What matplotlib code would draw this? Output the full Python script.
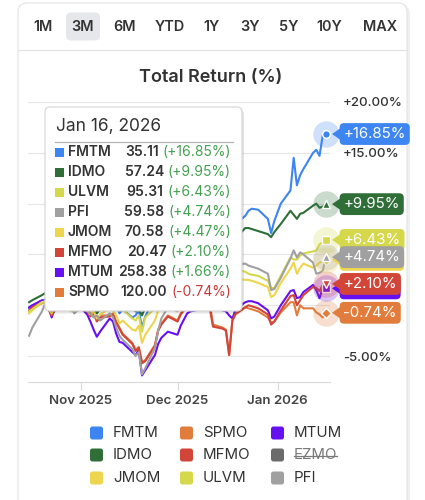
import numpy as np
import pandas as pd
import matplotlib
matplotlib.use('Agg')
import matplotlib.pyplot as plt
import matplotlib.dates as mdates
from matplotlib.patches import FancyBboxPatch, Polygon
from matplotlib.ticker import FuncFormatter

plt.rcParams['font.family'] = ['Inter', 'DejaVu Sans']

W, H = 425, 500

# trading days shown in the 3M window
dates = pd.bdate_range('2025-10-16', '2026-01-16', freq='C',
                       holidays=['2025-11-27', '2025-12-25', '2026-01-01'])

# series order = legend order (row-major), later series drawn on top
tickers = ['FMTM', 'SPMO', 'MTUM', 'IDMO', 'MFMO', 'EZMO', 'JMOM', 'ULVM', 'PFI']
hidden = ['EZMO']
colors = {'FMTM': '#3d85f0', 'SPMO': '#e27c3c', 'MTUM': '#6610f2',
          'IDMO': '#2f6e37', 'MFMO': '#d2463a', 'EZMO': '#6b6b6b',
          'JMOM': '#eed54e', 'ULVM': '#d5d84a', 'PFI': '#a0a0a0'}
markers = {'FMTM': 'o', 'SPMO': 'D', 'MTUM': 's', 'IDMO': '^', 'MFMO': 'v',
           'EZMO': 'o', 'JMOM': 'D', 'ULVM': 's', 'PFI': '^'}

# total return (%) per trading day
fmtm = [-0.3, 0.0, 0.4, 0.6, 0.4, 0.0, 0.8, 1.6, 1.9, 1.5, 0.6, 0.9,
        0.6, -0.2, 0.3, -0.6, -0.3, 0.8, 1.0, 0.4, -0.8, -0.4, -1.2, -1.0,
        -0.5, -2.2, -1.1, 0.8, 2.0, 2.6, 3.2, 2.8, 3.5, 4.1, 3.9, 4.6,
        4.2, 4.8, 5.6, 5.9, 4.8, 5.4, 5.9, 5.1, 7.0, 8.0, 8.8, 9.3,
        9.5, 9.4, 8.5, 7.1, 8.3, 10.0, 11.3, 14.5, 11.8, 12.8, 13.4, 15.0,
        15.3, 14.7, 16.7, 16.85]
spmo = [-0.6, -0.3, 0.2, 0.4, -0.3, -0.8, -0.2, 0.8, 1.0, 0.5, -0.2, 0.1,
        -0.4, -0.9, -0.6, -1.4, -1.0, -1.0, -0.8, -1.6, -2.2, -2.8, -3.7, -4.4,
        -4.1, -5.6, -5.4, -3.9, -2.4, -1.8, -1.0, -1.5, -0.8, -0.3, 0.0, 0.2,
        0.1, 0.3, 0.6, 0.2, -1.9, -2.2, -2.4, -4.9, -1.5, -0.9, -0.2, -0.3,
        -0.4, -0.6, -1.2, -1.7, -1.6, -0.7, 0.3, 0.3, -1.0, 0.0, -0.3, -0.3,
        -0.7, -0.9, -1.2, -0.74]
mtum = [-0.2, 0.0, 0.5, 0.4, -0.2, -1.2, -0.3, 0.6, 0.9, 0.4, -0.3, 0.1,
        -0.9, -1.6, -2.4, -3.1, -2.6, -1.3, -1.6, -2.8, -3.6, -3.7, -4.6, -4.9,
        -4.4, -6.9, -6.4, -4.9, -3.8, -3.2, -2.6, -2.9, -2.0, -1.4, -0.8, -0.6,
        -0.4, -0.1, 0.3, 0.4, -0.3, -0.5, -0.6, -1.0, -1.3, -0.4, 0.3, 0.4,
        0.4, 0.2, -0.5, -1.3, -1.1, 0.0, 1.4, 1.5, 0.7, 0.8, 1.3, 2.0,
        1.5, 0.7, 1.7, 1.66]
idmo = [0.3, 0.5, 1.0, 1.2, 0.6, 0.2, 0.7, 1.1, 0.9, 0.4, 0.0, 0.3,
        0.1, -0.5, -0.2, -0.8, -0.4, 0.5, 0.9, 1.1, 0.2, 0.4, -0.3, -0.6,
        -0.4, -1.0, -0.2, 1.0, 1.8, 2.4, 2.8, 2.4, 2.7, 3.4, 3.1, 3.3,
        3.0, 3.5, 4.3, 4.9, 4.2, 4.8, 5.4, 5.5, 6.3, 6.6, 7.6, 7.6,
        7.5, 7.3, 7.0, 6.7, 7.2, 8.0, 9.3, 8.9, 8.5, 9.0, 9.1, 9.8,
        10.0, 9.6, 9.7, 9.95]
mfmo = [-0.5, -0.2, 0.3, 0.2, -0.4, -1.0, -0.5, 0.3, 0.5, 0.2, -0.4, -0.1,
        -0.6, -1.1, -0.8, -1.6, -1.2, -1.1, -0.9, -1.7, -2.3, -2.9, -3.8, -4.5,
        -4.2, -5.7, -5.5, -4.0, -2.5, -1.9, -1.1, -1.6, -0.9, -0.5, -0.3, -0.2,
        -0.3, -0.1, 0.2, -0.3, -2.1, -2.3, -2.5, -4.9, -1.5, -0.8, -0.2, 0.0,
        -0.1, -0.3, -0.9, -1.9, -1.6, -0.5, 0.9, 1.0, 0.0, 0.5, 1.0, 1.8,
        1.7, 1.4, 2.0, 2.10]
jmom = [-0.8, -0.5, 0.3, 0.2, -0.3, -0.8, 0.1, 0.6, 0.8, 0.3, -0.4, -0.1,
        -0.5, -0.9, -0.6, -1.3, -0.9, -0.3, -0.5, -1.0, -1.8, -1.5, -2.4, -2.5,
        -2.0, -3.7, -2.9, -1.5, -0.5, 0.0, 0.4, 0.1, 0.4, 0.9, 0.7, 1.0,
        0.8, 1.2, 1.7, 2.0, 1.1, 1.4, 1.6, 1.0, 2.2, 2.6, 2.5, 2.5,
        2.4, 2.2, 1.8, 0.8, 1.0, 2.2, 3.6, 4.2, 3.1, 3.7, 4.1, 3.7,
        3.9, 4.2, 4.3, 4.47]
ulvm = [-0.6, -0.4, 0.3, 0.4, 0.0, -0.3, 0.2, 0.1, -0.3, -0.6, -0.4, 0.0,
        0.3, 0.5, 0.4, 0.2, 0.5, 0.9, 1.4, 1.0, -0.5, -0.4, -1.3, -1.5,
        -1.0, -2.6, -1.2, -0.3, 0.8, 1.3, 1.6, 1.4, 1.3, 1.8, 1.5, 1.8,
        1.5, 1.9, 2.5, 3.0, 2.6, 2.9, 2.8, 2.4, 3.1, 3.5, 3.3, 3.1,
        3.0, 2.9, 2.4, 1.7, 1.7, 2.9, 4.7, 4.5, 4.5, 4.9, 5.1, 5.3,
        5.4, 6.0, 6.2, 6.43]
pfi = [-3.0, -2.2, -0.6, 0.2, -0.3, -0.6, 0.2, 0.4, 0.2, -0.2, -0.8, -0.5,
       -0.3, -0.8, -1.2, -1.0, -1.5, -0.8, -1.2, -2.2, -3.0, -3.4, -4.3, -5.0,
       -4.6, -6.8, -6.2, -4.2, -2.5, -1.3, -0.2, -0.6, 0.2, 0.8, 1.0, 1.5,
       1.2, 1.8, 2.5, 3.0, 2.2, 2.8, 3.0, 2.5, 3.6, 4.0, 4.1, 3.9,
       3.8, 3.6, 3.1, 1.5, 1.6, 2.7, 4.6, 5.4, 4.7, 5.2, 5.0, 4.2,
       3.1, 3.2, 3.4, 4.74]

returns = {'FMTM': fmtm, 'SPMO': spmo, 'MTUM': mtum, 'IDMO': idmo,
           'MFMO': mfmo, 'JMOM': jmom, 'ULVM': ulvm, 'PFI': pfi}
prices = {'FMTM': 35.11, 'IDMO': 57.24, 'ULVM': 95.31, 'PFI': 59.58,
          'JMOM': 70.58, 'MFMO': 20.47, 'MTUM': 258.38, 'SPMO': 120.00}

range_buttons = ['1M', '3M', '6M', 'YTD', '1Y', '3Y', '5Y', '10Y', 'MAX']
active_range = '3M'
tooltip_date = 'Jan 16, 2026'
yticks = [-5, 0, 5, 10, 15, 20]

TXT = '#333333'
GREEN = '#46a052'
RED = '#c93b3b'

fig = plt.figure(figsize=(W / 100, H / 100), dpi=100)
fig.patch.set_facecolor('white')

# background layer in pixel coordinates
bg = fig.add_axes([0, 0, 1, 1], zorder=0)
bg.set_xlim(0, W)
bg.set_ylim(H, 0)
bg.axis('off')
bg.add_patch(FancyBboxPatch((20, 5), 390, 540, boxstyle='round,pad=0,rounding_size=9',
                            fc='black', ec='none', alpha=0.06))
bg.add_patch(FancyBboxPatch((18, 3), 389, 540, boxstyle='round,pad=0,rounding_size=9',
                            fc='white', ec='#e3e3e3', lw=0.8))
bg.plot([18, 407], [50, 50], color='#e2e2e2', lw=0.9)

btn_x = [43, 83, 125, 170, 212, 250, 289, 329, 380]
for label, bx in zip(range_buttons, btn_x):
    if label == active_range:
        bg.add_patch(FancyBboxPatch((bx - 17, 12.5), 34, 28, boxstyle='round,pad=0,rounding_size=5',
                                    fc='#e5e7eb', ec='none'))
    bg.text(bx, 27, label, ha='center', va='center', fontsize=10.4,
            fontweight='semibold', color=TXT)

bg.text(211, 77, 'Total Return (%)', ha='center', va='center', fontsize=13,
        fontweight='semibold', color=TXT)

# main chart
ax = fig.add_axes([28 / W, 1 - 382 / H, 302 / W, 280 / H], zorder=1)
ax.patch.set_visible(False)
for k, t in enumerate(tickers):
    if t in hidden:
        continue
    ax.plot(dates, returns[t], color=colors[t], lw=1.5, solid_joinstyle='round',
            zorder=2 + 0.01 * k)

ax.set_ylim(-7.55, 20)
ax.set_xlim(dates[0] - pd.Timedelta(hours=8), dates[-1] + pd.Timedelta(hours=30))
ax.set_yticks(yticks)
# the zero label sits fully behind the value badges in the reference
ax.yaxis.set_major_formatter(FuncFormatter(lambda v, p: f'{v:+.2f}%' if v != 0 else ''))
ax.yaxis.tick_right()
ax.grid(axis='y', color='#e6e6e6', lw=0.8)
ax.set_axisbelow(True)
for s in ['top', 'left', 'right']:
    ax.spines[s].set_visible(False)
ax.spines['bottom'].set_color('#d9d9d9')
ax.spines['bottom'].set_linewidth(0.8)
ax.xaxis.set_major_locator(mdates.MonthLocator())
ax.xaxis.set_major_formatter(mdates.DateFormatter('%b %Y'))
ax.tick_params(axis='y', length=0, pad=9.5, labelsize=9.6, labelcolor=TXT)
ax.tick_params(axis='x', length=6, width=0.8, color='#d9d9d9', pad=3,
               labelsize=9.6, labelcolor='#444444')
plt.setp(ax.get_xticklabels(), fontweight='semibold')
plt.setp(ax.get_yticklabels(), fontweight='medium')

# hover halos and markers at the last point
x_last = mdates.date2num(dates[-1])
for k, t in enumerate(tickers):
    if t in hidden:
        continue
    v = returns[t][-1]
    ax.plot(x_last, v, 'o', ms=19, color=colors[t], alpha=0.25, mec='none',
            clip_on=False, zorder=5 + 0.02 * k)
    ax.plot(x_last, v, marker=markers[t], ms=5.5, mfc=colors[t], mec='white', mew=1,
            clip_on=False, zorder=5.01 + 0.02 * k)

# overlay layer: tooltip, badges, legend
ov = fig.add_axes([0, 0, 1, 1], zorder=10)
ov.set_xlim(0, W)
ov.set_ylim(H, 0)
ov.axis('off')
renderer = fig.canvas.get_renderer()

# value badges on the right
for k, t in enumerate(tickers):
    if t in hidden:
        continue
    v = returns[t][-1]
    y = H - ax.transData.transform((x_last, v))[1]
    z = 20 + 2 * k
    ov.add_patch(Polygon([(340, y - 5.5), (340, y + 5.5), (332, y)], closed=True,
                         fc=colors[t], ec='none', zorder=z))
    ov.text(343.5, y, f'{v:+.2f}%', ha='left', va='center', fontsize=10.8, color='white',
            zorder=z + 1,
            bbox=dict(boxstyle='round,pad=0.26,rounding_size=0.3', fc=colors[t], ec='none'))

# tooltip
ov.add_patch(FancyBboxPatch((47, 109.5), 197, 204, boxstyle='round,pad=0,rounding_size=5',
                            fc='black', ec='none', alpha=0.10, zorder=50))
ov.add_patch(FancyBboxPatch((45, 107), 197, 204, boxstyle='round,pad=0,rounding_size=5',
                            fc='white', ec='#d4d4d4', lw=0.8, zorder=51))
ov.text(56, 127, tooltip_date, ha='left', va='center', fontsize=12.5, color=TXT, zorder=52)
ov.plot([55, 233], [142, 142], color='#b5b5b5', lw=0.9, zorder=52)

order = sorted([t for t in tickers if t not in hidden], key=lambda t: -returns[t][-1])
for r, t in enumerate(order):
    y = 152 + 20 * r
    v = returns[t][-1]
    ov.add_patch(FancyBboxPatch((55, y - 4.5), 9, 9, boxstyle='square,pad=0',
                                fc=colors[t], ec='none', zorder=52))
    ov.text(68, y, t, ha='left', va='center', fontsize=10, fontweight='semibold',
            color=TXT, zorder=52)
    chg = ov.text(231, y, f'({v:+.2f}%)', ha='right', va='center', fontsize=10,
                  color=GREEN if v >= 0 else RED, zorder=52)
    cw = chg.get_window_extent(renderer).width
    ov.text(231 - cw - 4, y, f'{prices[t]:.2f}', ha='right', va='center', fontsize=10,
            fontweight='semibold', color=TXT, zorder=52)

# legend
leg_cols = [90, 180, 271]
leg_rows = [433, 455, 478]
for k, t in enumerate(tickers):
    lx = leg_cols[k % 3]
    ly = leg_rows[k // 3]
    ov.add_patch(FancyBboxPatch((lx, ly - 6.5), 13, 13, boxstyle='round,pad=0,rounding_size=2.5',
                                fc=colors[t], ec='none', zorder=5))
    tc = '#7a7a7a' if t in hidden else TXT
    lt = ov.text(lx + 23, ly, t, ha='left', va='center', fontsize=10.8, color=tc, zorder=5)
    if t in hidden:
        tw = lt.get_window_extent(renderer).width
        ov.plot([lx + 23, lx + 23 + tw], [ly + 0.5, ly + 0.5], color=tc, lw=0.9, zorder=6)

fig.savefig('out.png', dpi=100)
